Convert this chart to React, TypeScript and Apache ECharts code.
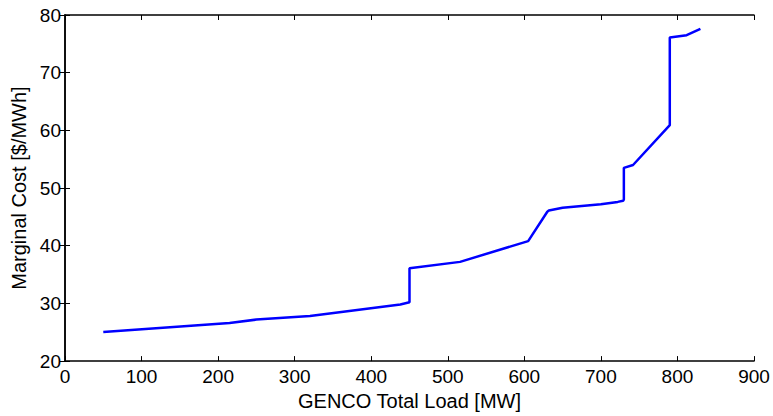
import React, { useEffect, useRef } from "react";
import * as echarts from "echarts";

const loadMW = [50, 215, 250, 320, 438, 450, 450, 516, 605, 630, 632, 650, 700, 722, 729, 730, 730, 742, 790, 790, 812, 830];
const costUSD = [25.05, 26.6, 27.2, 27.8, 29.8, 30.2, 36.1, 37.2, 40.8, 45.9, 46.1, 46.6, 47.2, 47.6, 47.8, 48.0, 53.5, 54.0, 60.9, 76.1, 76.5, 77.6];

const xTitle = "GENCO Total Load [MW]";
const yTitle = "Marginal Cost [$/MWh]";

export default function App() {
  const ref = useRef<HTMLDivElement>(null);
  useEffect(() => {
    const chart = echarts.init(ref.current!, null, { renderer: "svg" });
    const font = "Liberation Sans, Arial, sans-serif";
    const axisLine = { show: true, lineStyle: { color: "#000", width: 1.5 } };
    const tick = { show: true, inside: true, length: 5, lineStyle: { color: "#000", width: 1 } };
    const label = { color: "#000", fontSize: 19, fontFamily: font };
    const nameStyle = { color: "#000", fontSize: 20, fontFamily: font };
    chart.setOption({
      animation: false,
      grid: { left: 65, right: 19, top: 15, bottom: 52 },
      xAxis: [
        {
          type: "value", min: 0, max: 900, interval: 100, position: "bottom",
          axisLine, axisTick: tick, splitLine: { show: false },
          axisLabel: { ...label, margin: 6 },
          name: xTitle, nameLocation: "middle", nameGap: 25,
          nameTextStyle: nameStyle,
        },
        {
          type: "value", min: 0, max: 900, interval: 100, position: "top",
          axisLine, axisTick: tick, splitLine: { show: false }, axisLabel: { show: false },
        },
      ],
      yAxis: [
        {
          type: "value", min: 20, max: 80, interval: 10, position: "left",
          axisLine, axisTick: tick, splitLine: { show: false },
          axisLabel: { ...label, margin: 4 },
          name: yTitle, nameLocation: "middle", nameGap: 31,
          nameTextStyle: nameStyle,
        },
        {
          type: "value", min: 20, max: 80, interval: 10, position: "right",
          axisLine, axisTick: tick, splitLine: { show: false }, axisLabel: { show: false },
        },
      ],
      series: [
        {
          type: "line",
          data: loadMW.map((x, i) => [x, costUSD[i]]),
          showSymbol: false,
          lineStyle: { color: "#0000ff", width: 2.5 },
          itemStyle: { color: "#0000ff" },
        },
      ],
    });
    return () => chart.dispose();
  }, []);
  return <div ref={ref} style={{ width: 773, height: 416, position: "absolute", left: 0, top: 0, background: "#fff" }} />;
}
